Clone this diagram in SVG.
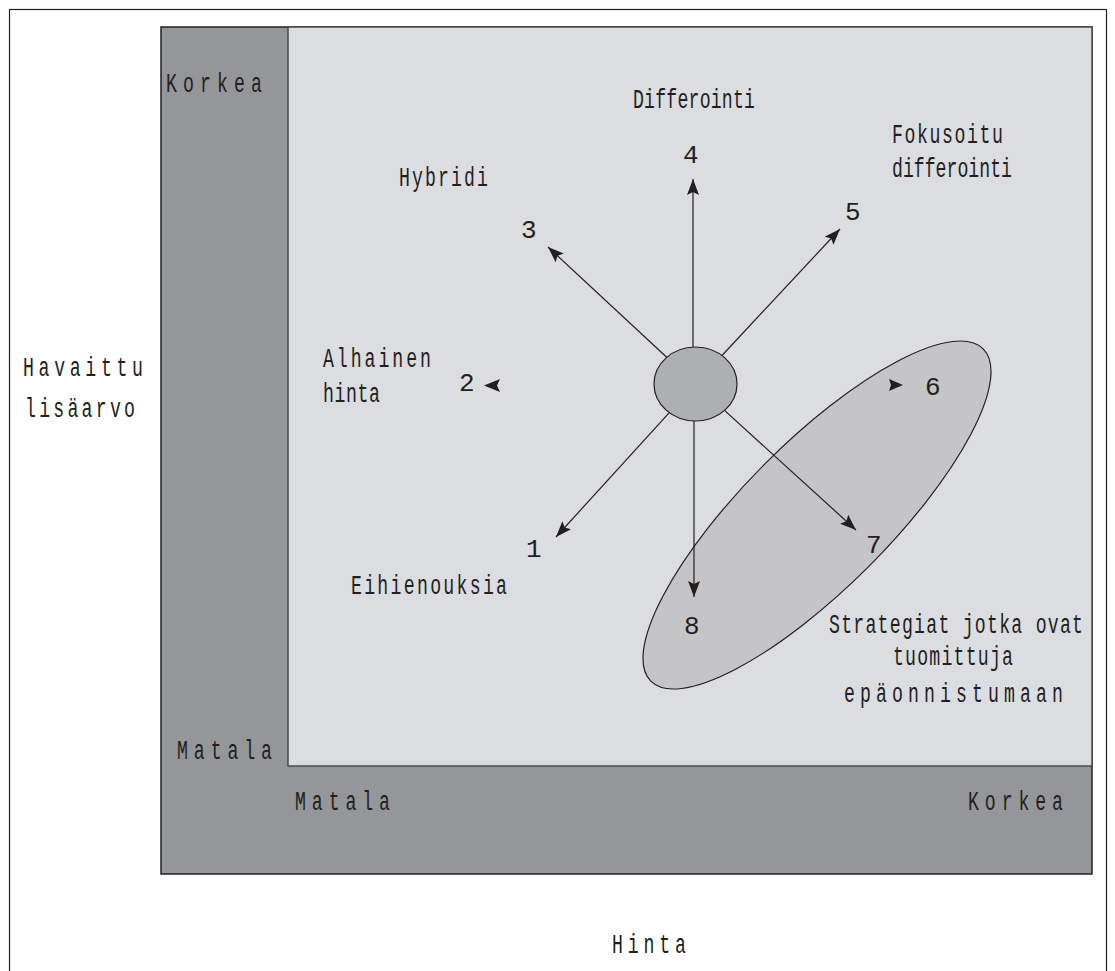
<svg xmlns="http://www.w3.org/2000/svg" width="1115" height="971" viewBox="0 0 1115 971">
<style>
.t{font-family:"Liberation Mono","DejaVu Sans Mono",monospace;font-size:28px;fill:#231f20}
.n{font-family:"Liberation Mono","DejaVu Sans Mono",monospace;font-size:26px;fill:#231f20}
.c{stroke:#231f20;stroke-width:1.2;fill:none;marker-end:url(#ah)}
.h{fill:#231f20}
</style>
<defs>
<marker id="ah" markerUnits="userSpaceOnUse" markerWidth="16" markerHeight="12" refX="16" refY="6" orient="auto" viewBox="0 0 16 12">
<path d="M0,0 L16,6 L0,12 L3,6 z" fill="#231f20"/>
</marker>
</defs>
<rect x="0" y="0" width="1115" height="971" fill="#ffffff"/>
<g id="frame">
<rect x="9.5" y="9.5" width="1097" height="990" fill="#ffffff" stroke="#231f20" stroke-width="1.2"/>
</g>
<g id="outer-panel">
<rect x="161" y="27" width="931" height="847" fill="#95969a" stroke="#231f20" stroke-width="1.5"/>
</g>
<g id="inner-panel">
<rect x="288" y="27" width="804" height="739" fill="#dcdde1" stroke="#4a4a4c" stroke-width="1.5"/>
</g>
<g id="failure-zone">
<ellipse cx="817" cy="515" rx="235" ry="73" transform="rotate(-45 817 515)" fill="#c5c5c7" stroke="#231f20" stroke-width="1.2"/>
</g>
<g id="start">
<ellipse cx="695.5" cy="384" rx="41.5" ry="37" fill="#aeafb3" stroke="#231f20" stroke-width="1.2"/>
</g>
<g id="connectors">
<line class="c" x1="693" y1="347" x2="693" y2="179"/>
<line class="c" x1="666.7" y1="357.3" x2="548" y2="247"/>
<line class="c" x1="722" y1="355.5" x2="840" y2="229"/>
<line class="c" x1="669.3" y1="412.7" x2="556" y2="537"/>
<line class="c" x1="694" y1="421" x2="694" y2="597"/>
<line class="c" x1="724.5" y1="410.4" x2="856" y2="530"/>
<path class="h" d="M484,385.5 L500,379 L497,385.5 L500,392 z"/>
<path class="h" d="M903,385 L889,379 L891,385 L889,391 z"/>
</g>
<g id="axis-labels">
<text class="t" transform="translate(166 92) scale(0.65 1)" textLength="147.7" lengthAdjust="spacing">Korkea</text>
<text class="t" transform="translate(177 759) scale(0.65 1)" textLength="146.2" lengthAdjust="spacing">Matala</text>
<text class="t" transform="translate(295 810) scale(0.65 1)" textLength="146.2" lengthAdjust="spacing">Matala</text>
<text class="t" transform="translate(968 810) scale(0.65 1)" textLength="146.2" lengthAdjust="spacing">Korkea</text>
<text class="t" transform="translate(612 953) scale(0.65 1)" textLength="113.8" lengthAdjust="spacing">Hinta</text>
<text class="t" transform="translate(23 376) scale(0.65 1)" textLength="184.6" lengthAdjust="spacing">Havaittu</text>
<text class="t" transform="translate(25 417) scale(0.65 1)" textLength="169.2" lengthAdjust="spacing">lisäarvo</text>
</g>
<g id="strategy-4">
<text class="t" transform="translate(633 108) scale(0.65 1)" textLength="187.7" lengthAdjust="spacing">Differointi</text>
<text class="n" x="683" y="163">4</text>
</g>
<g id="strategy-5">
<text class="t" transform="translate(892 143) scale(0.65 1)" textLength="170.8" lengthAdjust="spacing">Fokusoitu</text>
<text class="t" transform="translate(892 177) scale(0.65 1)" textLength="184.6" lengthAdjust="spacing">differointi</text>
<text class="n" x="845" y="220">5</text>
</g>
<g id="strategy-3">
<text class="t" transform="translate(399 186) scale(0.65 1)" textLength="136.9" lengthAdjust="spacing">Hybridi</text>
<text class="n" x="521" y="238">3</text>
</g>
<g id="strategy-2">
<text class="t" transform="translate(323 367) scale(0.65 1)" textLength="166.2" lengthAdjust="spacing">Alhainen</text>
<text class="t" transform="translate(323 402) scale(0.65 1)" textLength="87.7" lengthAdjust="spacing">hinta</text>
<text class="n" x="459" y="391">2</text>
</g>
<g id="strategy-1">
<text class="n" x="526" y="557">1</text>
<text class="t" transform="translate(351 594) scale(0.65 1)" textLength="240" lengthAdjust="spacing">Eihienouksia</text>
</g>
<g id="strategy-6">
<text class="n" x="925" y="395">6</text>
</g>
<g id="strategy-7">
<text class="n" x="866" y="553">7</text>
</g>
<g id="strategy-8">
<text class="n" x="684" y="634">8</text>
</g>
<g id="failure-label">
<text class="t" transform="translate(829 633) scale(0.65 1)" textLength="390.8" lengthAdjust="spacing">Strategiat jotka ovat</text>
<text class="t" transform="translate(893 665) scale(0.65 1)" textLength="184.6" lengthAdjust="spacing">tuomittuja</text>
<text class="t" transform="translate(844 702) scale(0.65 1)" textLength="336.9" lengthAdjust="spacing">epäonnistumaan</text>
</g>
</svg>
